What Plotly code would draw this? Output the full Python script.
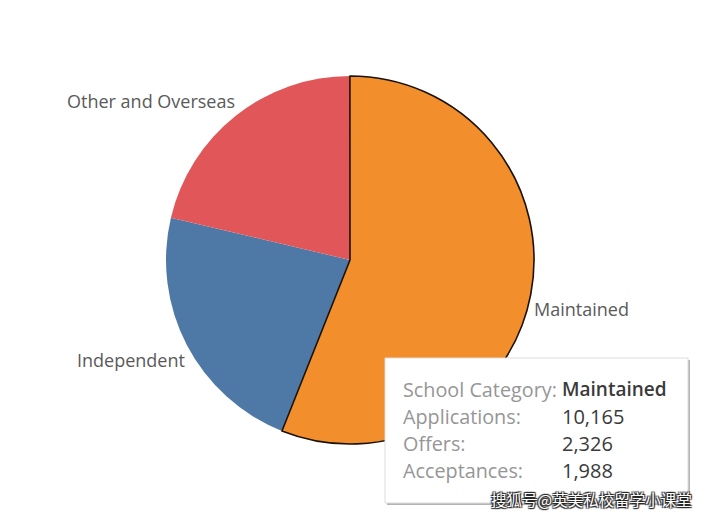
import plotly.graph_objects as go

# values, drawn clockwise from the bottom left so Maintained sits on top
categories = ['Independent', 'Other and Overseas', 'Maintained']
applications = [4110, 3865, 10165]
colors = ['#4e79a7', '#e15759', '#f28e2b']
outline = ['#4e79a7', '#e15759', '#1a1208']
outline_width = [0, 0, 1.6]

tip_names = ['School Category:', 'Applications:', 'Offers:', 'Acceptances:']
tip_values = ['Maintained', '10,165', '2,326', '1,988']
watermark = '搜狐号@英美私校留学小课堂'

W = 705
H = 516
FONT = 'Open Sans'


def px(x):
    return x / W


def py(y):
    return 1 - y / H


fig = go.Figure(go.Pie(
    labels=categories,
    values=applications,
    sort=False,
    direction='clockwise',
    rotation=201.7,
    textinfo='none',
    hoverinfo='label+value',
    marker=dict(colors=colors, line=dict(color=outline, width=outline_width)),
    domain=dict(x=[px(166), px(534)], y=[py(444), py(76)]),
))

# category labels
label_pos = {'Maintained': (532, 308.5), 'Independent': (75, 359.5), 'Other and Overseas': (65, 101)}
for name in categories:
    x, y = label_pos[name]
    fig.add_annotation(x=px(x), y=py(y), xref='paper', yref='paper', text=name, showarrow=False,
                       xanchor='left', yanchor='middle', font=dict(family=FONT, size=18, color='#5a5a5a'))

# tooltip box with its shadow
fig.add_shape(type='rect', xref='paper', yref='paper', x0=px(387), x1=px(690), y0=py(505), y1=py(360),
              fillcolor='#b5b5b5', line=dict(width=0), layer='above')
fig.add_shape(type='rect', xref='paper', yref='paper', x0=px(385), x1=px(688), y0=py(503), y1=py(358),
              fillcolor='white', line=dict(color='#dddddd', width=1), layer='above')

tip_y = [389, 416, 443, 470]
for i, (name, value, y) in enumerate(zip(tip_names, tip_values, tip_y)):
    fig.add_annotation(x=px(401), y=py(y), xref='paper', yref='paper', text=name, showarrow=False,
                       xanchor='left', yanchor='middle', font=dict(family=FONT, size=19.8, color='#969696'))
    fig.add_annotation(x=px(560), y=py(y), xref='paper', yref='paper', text=value, showarrow=False,
                       xanchor='left', yanchor='middle',
                       font=dict(family=FONT, size=19 if i == 0 else 20, color='#3a3a3a', weight=600 if i == 0 else 400))

fig.add_annotation(x=px(489), y=py(499), xref='paper', yref='paper', text=watermark, showarrow=False,
                   xanchor='left', yanchor='middle',
                   font=dict(family='Noto Sans CJK SC', size=15.5, color='white',
                             shadow='1px 1px 1px #222, -1px -1px 1px #222, 1px -1px 1px #222, -1px 1px 1px #222'))

fig.update_layout(width=W, height=H, margin=dict(l=0, r=0, t=0, b=0), showlegend=False,
                  paper_bgcolor='white', plot_bgcolor='white')

# page margin off so paper coordinates are window pixels
fig.write_html("out.html", config={'displayModeBar': False},
               post_script="document.body.style.margin = '0';")
